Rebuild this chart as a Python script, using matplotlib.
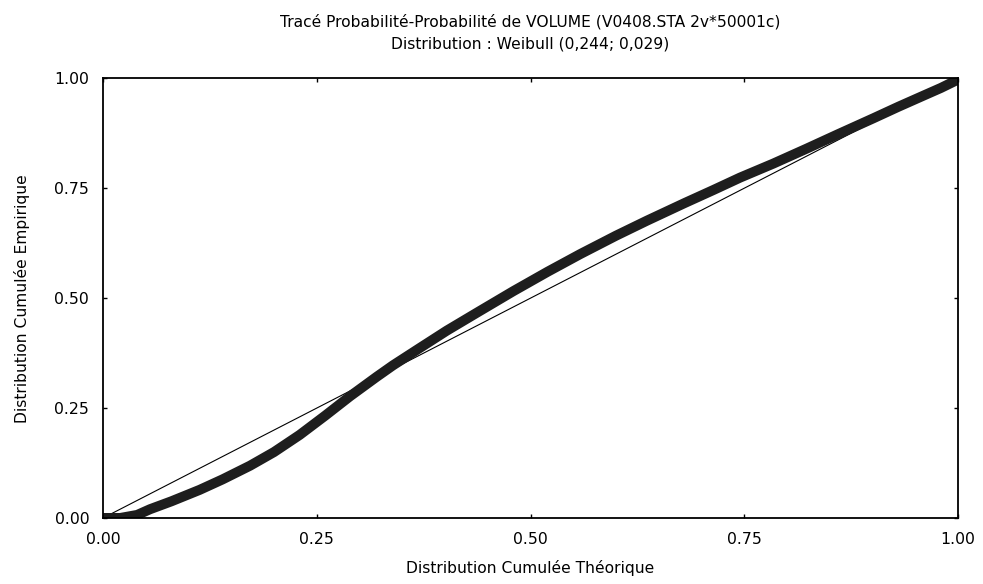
import matplotlib
matplotlib.use("Agg")
import matplotlib.pyplot as plt

theo = [0.0, 0.02, 0.04, 0.055, 0.08, 0.113, 0.14, 0.172, 0.20, 0.230, 0.26,
        0.289, 0.32, 0.339, 0.37, 0.402, 0.44, 0.480, 0.52, 0.558, 0.60, 0.636,
        0.68, 0.714, 0.745, 0.784, 0.823, 0.86, 0.901, 0.93, 0.959, 0.98, 1.0]
emp = [0.0, 0.0, 0.007, 0.020, 0.038, 0.064, 0.088, 0.119, 0.150, 0.189, 0.233,
       0.277, 0.321, 0.347, 0.386, 0.426, 0.470, 0.516, 0.560, 0.600, 0.642, 0.676,
       0.716, 0.746, 0.774, 0.806, 0.840, 0.873, 0.909, 0.935, 0.960, 0.978, 0.997]
ref_line = [0.0, 1.0]
ticks = [0.0, 0.25, 0.5, 0.75, 1.0]
tick_labels = ["0.00", "0.25", "0.50", "0.75", "1.00"]

plt.rcParams['font.family'] = ['DejaVu Sans']

fig = plt.figure(figsize=(9.83, 5.84), dpi=100)
ax = fig.add_axes([0.1048, 0.113, 0.8698, 0.753])

#reference line + empirical curve
ax.plot(ref_line, ref_line, color='black', lw=0.8)
ax.plot(theo, emp, color='#1e1e1e', lw=7.2, solid_capstyle='butt', solid_joinstyle='round')

ax.set_xlim(0, 1)
ax.set_ylim(0, 1)
ax.set_xticks(ticks)
ax.set_yticks(ticks)
ax.set_xticklabels(tick_labels)
ax.set_yticklabels(tick_labels)
ax.tick_params(direction='in', length=3, width=1, labelsize=11.3, pad=10,
               top=True, right=True)
for s in ax.spines.values():
    s.set_linewidth(1.3)

ax.set_xlabel("Distribution Cumulée Théorique", fontsize=11.2, va='center')
ax.xaxis.set_label_coords(0.5, -0.1136)
ax.set_ylabel("Distribution Cumulée Empirique", fontsize=11.2, va='center')
ax.yaxis.set_label_coords(-0.0947, 0.5)

fig.text(0.5395, 1 - 22 / 584, "Tracé Probabilité-Probabilité de VOLUME (V0408.STA 2v*50001c)",
         ha='center', va='center', fontsize=11.2)
fig.text(0.5395, 1 - 44 / 584, "Distribution : Weibull (0,244; 0,029)",
         ha='center', va='center', fontsize=11.2)

fig.savefig("out.png", dpi=100)
